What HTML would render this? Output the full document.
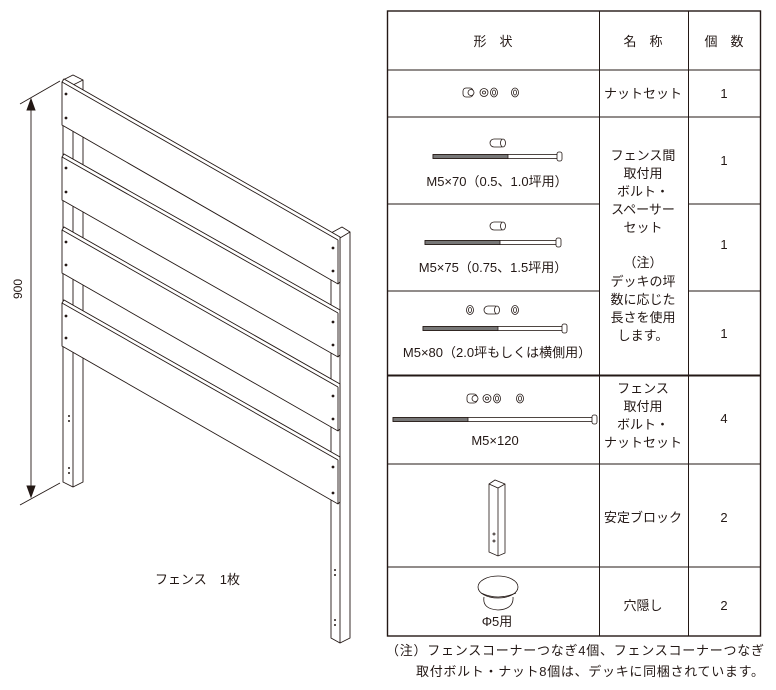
<!DOCTYPE html>
<html><head><meta charset="utf-8"><style>
html,body{margin:0;padding:0;background:#fff;width:776px;height:690px;overflow:hidden}
svg{display:block}
text{font-family:"Liberation Sans","Noto Sans CJK JP",sans-serif;fill:#231815}
</style></head><body>
<svg width="776" height="690" viewBox="0 0 776 690" xmlns="http://www.w3.org/2000/svg">
<g stroke="#231815" stroke-width="0.9" fill="#fff">
<line x1="20" y1="104" x2="60" y2="81"/>
<line x1="20" y1="505" x2="60" y2="483"/>
<line x1="31" y1="100" x2="31" y2="494"/>
<path d="M27,110 L31,99 L35,110 Z" fill="#231815"/>
<path d="M27,486 L31,497 L35,486 Z" fill="#231815"/>
<path d="M63,80 L73,75 L83,80 L83,482 L73,487 L63,482 Z"/>
<line x1="73" y1="85" x2="73" y2="487"/>
<line x1="63" y1="80" x2="73" y2="85"/><line x1="73" y1="85" x2="83" y2="80"/>
<path d="M331,233 L342,227 L350,232 L350,638 L340,643 L331,638 Z"/>
<line x1="340" y1="238" x2="340" y2="643"/>
<line x1="331" y1="233" x2="340" y2="238"/><line x1="340" y1="238" x2="350" y2="232"/>
<g>
<path d="M62,82 L64,79 L340,237 L340,282 L338,284 L62,125 Z"/>
<line x1="62" y1="82" x2="338" y2="240"/><line x1="338" y1="240" x2="338" y2="284"/>
<path d="M62,157 L64,154 L340,310 L340,355 L338,357 L62,200 Z"/>
<line x1="62" y1="157" x2="338" y2="313"/><line x1="338" y1="313" x2="338" y2="357"/>
<path d="M62,230 L64,227 L340,384 L340,429 L338,431 L62,273 Z"/>
<line x1="62" y1="230" x2="338" y2="387"/><line x1="338" y1="387" x2="338" y2="431"/>
<path d="M62,303 L64,300 L340,457 L340,502 L338,504 L62,346 Z"/>
<line x1="62" y1="303" x2="338" y2="460"/><line x1="338" y1="460" x2="338" y2="504"/>
</g>
</g>
<g fill="#231815">
<circle cx="66" cy="94" r="1.4"/><circle cx="66" cy="118" r="1.4"/>
<circle cx="66" cy="168" r="1.4"/><circle cx="66" cy="192" r="1.4"/>
<circle cx="66" cy="242" r="1.4"/><circle cx="66" cy="265" r="1.4"/>
<circle cx="66" cy="316" r="1.4"/><circle cx="66" cy="338" r="1.4"/>
<circle cx="333" cy="248" r="1.4"/><circle cx="333" cy="271" r="1.4"/>
<circle cx="333" cy="322" r="1.4"/><circle cx="333" cy="345" r="1.4"/>
<circle cx="333" cy="396" r="1.4"/><circle cx="333" cy="419" r="1.4"/>
<circle cx="333" cy="467" r="1.4"/><circle cx="333" cy="493" r="1.4"/>
<circle cx="69" cy="416" r="1"/><circle cx="69" cy="421" r="1"/>
<circle cx="69" cy="468" r="1"/><circle cx="69" cy="473" r="1"/>
<circle cx="335" cy="570" r="1"/><circle cx="335" cy="575" r="1"/>
<circle cx="335" cy="620" r="1"/><circle cx="335" cy="625" r="1"/>
</g>
<text x="22" y="289" font-size="12" transform="rotate(-90 22 289)" text-anchor="middle">900</text>
<text x="155" y="584" font-size="13">フェンス　1枚</text>

<g stroke="#231815" fill="none">
<rect x="387.5" y="11" width="373" height="625" stroke-width="1.4"/>
<line x1="599.5" y1="11" x2="599.5" y2="636"/>
<line x1="688.5" y1="11" x2="688.5" y2="636"/>
<line x1="387" y1="70" x2="760" y2="70"/>
<line x1="387" y1="117" x2="760" y2="117"/>
<line x1="387" y1="204" x2="599" y2="204"/><line x1="688" y1="204" x2="760" y2="204"/>
<line x1="387" y1="291" x2="599" y2="291"/><line x1="688" y1="291" x2="760" y2="291"/>
<line x1="387" y1="375.5" x2="760" y2="375.5" stroke-width="2"/>
<line x1="387" y1="464" x2="760" y2="464"/>
<line x1="387" y1="567" x2="760" y2="567"/>
</g>
<g font-size="13" text-anchor="middle">
<text x="493" y="46">形　状</text>
<text x="643" y="46">名　称</text>
<text x="724" y="46">個　数</text>
<text x="643" y="98">ナットセット</text><text x="724" y="98">1</text>
<text x="724" y="165">1</text><text x="724" y="249">1</text><text x="724" y="338">1</text>
<text x="643" y="160">フェンス間</text>
<text x="643" y="178">取付用</text>
<text x="643" y="196">ボルト・</text>
<text x="643" y="214">スペーサー</text>
<text x="643" y="232">セット</text>
<text x="643" y="267">（注）</text>
<text x="643" y="286">デッキの坪</text>
<text x="643" y="304">数に応じた</text>
<text x="643" y="322">長さを使用</text>
<text x="643" y="340">します。</text>
<text x="643" y="393">フェンス</text>
<text x="643" y="411">取付用</text>
<text x="643" y="429">ボルト・</text>
<text x="643" y="447">ナットセット</text>
<text x="724" y="423">4</text>
<text x="643" y="522">安定ブロック</text><text x="724" y="522">2</text>
<text x="643" y="610">穴隠し</text><text x="724" y="610">2</text>
<text x="497" y="186">M5×70（0.5、1.0坪用）</text>
<text x="493" y="272">M5×75（0.75、1.5坪用）</text>
<text x="497" y="357">M5×80（2.0坪もしくは横側用）</text>
<text x="495" y="445">M5×120</text>
<text x="497" y="626">Φ5用</text>
</g>
<g font-size="13">
<text x="386" y="655" textLength="378" lengthAdjust="spacing">（注）フェンスコーナーつなぎ4個、フェンスコーナーつなぎ</text>
<text x="416" y="676" textLength="348" lengthAdjust="spacing">取付ボルト・ナット8個は、デッキに同梱されています。</text>
</g>
<g stroke="#231815" stroke-width="0.8" fill="#fff">
<rect x="463" y="88" width="10" height="9" rx="3"/><circle cx="471" cy="92.5" r="3"/>
<circle cx="484" cy="92.5" r="4"/><circle cx="484" cy="92.5" r="1.5"/>
<ellipse cx="494" cy="92.5" rx="3.5" ry="4.5"/><ellipse cx="494" cy="92.5" rx="1.5" ry="2.5"/>
<ellipse cx="515" cy="92.5" rx="3.5" ry="4.5"/><ellipse cx="515" cy="92.5" rx="1.5" ry="2.5"/>
<rect x="490" y="139" width="15" height="8" rx="4"/><ellipse cx="503" cy="143" rx="2.5" ry="4"/>
<rect x="433" y="154.5" width="125" height="4"/><rect x="433" y="154.5" width="75" height="4" fill="#777"/>
<rect x="557" y="152" width="5" height="9" rx="2"/>
<rect x="490" y="222" width="15" height="8" rx="4"/><ellipse cx="503" cy="226" rx="2.5" ry="4"/>
<rect x="425" y="240.5" width="132" height="4"/><rect x="425" y="240.5" width="75" height="4" fill="#777"/>
<rect x="556" y="238" width="5" height="9" rx="2"/>
<ellipse cx="470" cy="310" rx="3.5" ry="4.5"/><ellipse cx="470" cy="310" rx="1.5" ry="2.5"/>
<rect x="484" y="306" width="15" height="8" rx="4"/><ellipse cx="497" cy="310" rx="2.5" ry="4"/>
<ellipse cx="515" cy="310" rx="3.5" ry="4.5"/><ellipse cx="515" cy="310" rx="1.5" ry="2.5"/>
<rect x="423" y="326.5" width="140" height="4"/><rect x="423" y="326.5" width="75" height="4" fill="#777"/>
<rect x="562" y="324" width="5" height="9" rx="2"/>
<g transform="translate(0,306)"><rect x="467" y="88" width="10" height="9" rx="3"/><circle cx="475" cy="92.5" r="3"/>
<circle cx="487" cy="92.5" r="4"/><circle cx="487" cy="92.5" r="1.5"/>
<ellipse cx="497" cy="92.5" rx="3.5" ry="4.5"/><ellipse cx="497" cy="92.5" rx="1.5" ry="2.5"/>
<ellipse cx="520" cy="92.5" rx="3.5" ry="4.5"/><ellipse cx="520" cy="92.5" rx="1.5" ry="2.5"/></g>
<rect x="393" y="417.5" width="200" height="4"/><rect x="393" y="417.5" width="75" height="4" fill="#777"/>
<rect x="592" y="415" width="5" height="9" rx="2"/>
<path d="M489,484 L495,480 L505,484 L505,553 L498,556 L489,552 Z"/>
<path d="M489,484 L498,488 L505,484"/><line x1="498" y1="488" x2="498" y2="556"/>
<circle cx="494" cy="534" r="1"/><circle cx="494" cy="541" r="1"/>
<path d="M484,597 Q482,609 498,610 Q514,609 513,597"/>
<ellipse cx="498" cy="587" rx="20" ry="11"/>
<path d="M481,593 Q498,601 516,593" fill="none"/>
</g>
</svg>
</body></html>
